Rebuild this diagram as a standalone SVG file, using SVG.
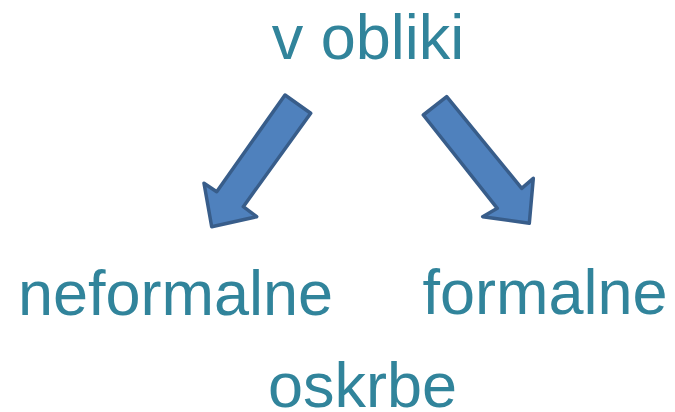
<svg xmlns="http://www.w3.org/2000/svg" width="675" height="412" viewBox="0 0 675 412">
<style>
.t{font-family:"Liberation Sans",Arial,sans-serif;font-size:63px;fill:#31849B;text-anchor:middle}
.a{fill:#4F81BD;stroke:#385D8A;stroke-width:3.5;stroke-linejoin:round}
</style>
<rect width="675" height="412" fill="#FFFFFF"/>
<g id="title"><text class="t" x="368" y="59">v obliki</text></g>
<g id="connectors">
<path class="a" d="M285,95 L310.7,113.3 L243.3,206.7 L256.7,216.7 L211.7,226.7 L204,183.3 L216.7,191.7 Z"/>
<path class="a" d="M446.7,96.7 L423.3,115 L497.3,208.3 L482.7,216.7 L529.3,223.3 L533.3,178.3 L521.7,188.3 Z"/>
</g>
<g id="neformalne"><text class="t" x="175.5" y="314.5">neformalne</text></g>
<g id="formalne"><text class="t" x="545" y="313.5">formalne</text></g>
<g id="oskrbe"><text class="t" x="362.5" y="406.5">oskrbe</text></g>
</svg>
